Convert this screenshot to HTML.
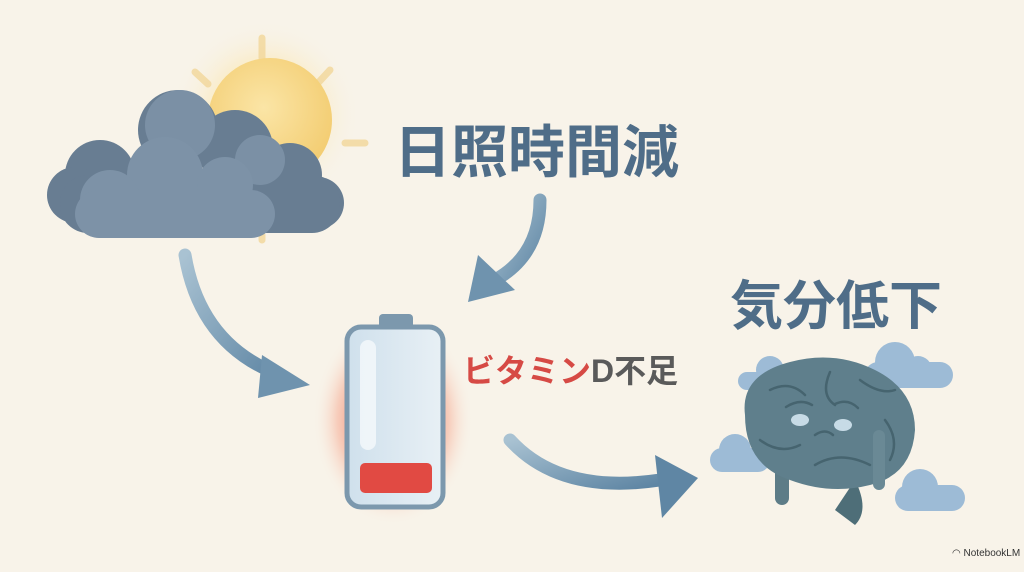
<!DOCTYPE html>
<html><head><meta charset="utf-8"><style>
html,body{margin:0;padding:0;background:#f8f3e9;}
svg{display:block}
text{font-family:"Liberation Sans","Noto Sans CJK JP",sans-serif;font-weight:700}
</style></head><body>
<svg width="1024" height="572" viewBox="0 0 1024 572">
<defs>
<radialGradient id="sun" cx="0.45" cy="0.4" r="0.6"><stop offset="0" stop-color="#fbe5a6"/><stop offset="1" stop-color="#f3cd72"/></radialGradient>
<radialGradient id="sunglow"><stop offset="0.5" stop-color="#fbe7b0" stop-opacity="0.7"/><stop offset="1" stop-color="#f8f3e9" stop-opacity="0"/></radialGradient>
<radialGradient id="glow"><stop offset="0.35" stop-color="#f06a52" stop-opacity="0.9"/><stop offset="0.7" stop-color="#f6a88f" stop-opacity="0.5"/><stop offset="1" stop-color="#f8f3e9" stop-opacity="0"/></radialGradient>
<linearGradient id="arr" x1="0" y1="0" x2="1" y2="1"><stop offset="0" stop-color="#a9c2d2"/><stop offset="1" stop-color="#5f86a4"/></linearGradient>
<linearGradient id="batt" x1="0" y1="0" x2="1" y2="0"><stop offset="0" stop-color="#cfe0ec"/><stop offset="1" stop-color="#e8f0f5"/></linearGradient>
</defs>
<circle cx="265" cy="115" r="95" fill="url(#sunglow)"/>
<g stroke="#f2d79a" stroke-width="7" stroke-linecap="round" opacity="0.8">
<line x1="262" y1="38" x2="262" y2="58"/><line x1="195" y1="72" x2="208" y2="84"/><line x1="330" y1="70" x2="318" y2="83"/>
<line x1="345" y1="143" x2="365" y2="143"/><line x1="262" y1="235" x2="262" y2="240"/>
</g>
<circle cx="270" cy="120" r="62" fill="url(#sun)"/>
<g fill="#687d92">
<circle cx="178" cy="130" r="40"/><circle cx="100" cy="175" r="35"/><circle cx="290" cy="175" r="32"/>
<circle cx="235" cy="148" r="38"/><circle cx="75" cy="195" r="28"/><circle cx="318" cy="203" r="26"/>
<rect x="60" y="175" width="280" height="58" rx="28"/>
</g>
<g fill="#7b90a5"><circle cx="180" cy="125" r="35"/><circle cx="260" cy="160" r="25"/></g>
<g fill="#7d92a7">
<circle cx="165" cy="175" r="38"/><circle cx="225" cy="185" r="28"/><circle cx="110" cy="200" r="30"/>
<rect x="75" y="190" width="200" height="48" rx="24"/>
</g>
<path d="M185 255 Q200 345 280 375" fill="none" stroke="url(#arr)" stroke-width="13" stroke-linecap="round"/>
<path d="M262 355 L310 385 L258 398 Z" fill="#6f93ae"/>
<path d="M540 200 Q540 255 495 280" fill="none" stroke="url(#arr)" stroke-width="13" stroke-linecap="round"/>
<path d="M478 255 L468 302 L515 290 Z" fill="#6f93ae"/>
<path d="M510 440 Q560 495 660 480" fill="none" stroke="url(#arr)" stroke-width="13" stroke-linecap="round"/>
<path d="M655 455 L698 478 L662 518 Z" fill="#5f86a4"/>
<ellipse cx="393" cy="420" rx="80" ry="105" fill="url(#glow)"/>
<rect x="379" y="314" width="34" height="16" rx="4" fill="#7c98ad"/>
<rect x="347" y="327" width="96" height="180" rx="14" fill="url(#batt)" stroke="#7c98ad" stroke-width="5"/>
<rect x="360" y="340" width="16" height="110" rx="8" fill="#f5f9fb" opacity="0.8"/>
<rect x="360" y="463" width="72" height="30" rx="5" fill="#e14a43"/>
<text x="463" y="382" font-size="32" fill="#d64a45">ビタミン<tspan fill="#5a5a5a">D不足</tspan></text>
<text x="394" y="172" font-size="57" fill="#4f6d88">日照時間減</text>
<text x="730" y="324" font-size="53" fill="#4f6d88">気分低下</text>
<g fill="#9dbbd6">
<circle cx="895" cy="362" r="20"/><circle cx="918" cy="370" r="14"/><rect x="865" y="362" width="88" height="26" rx="13"/>
<circle cx="770" cy="370" r="14"/><rect x="738" y="372" width="50" height="18" rx="9"/>
<circle cx="735" cy="450" r="16"/><rect x="710" y="448" width="60" height="24" rx="12"/>
<circle cx="920" cy="487" r="18"/><rect x="895" y="485" width="70" height="26" rx="13"/>
</g>
<path d="M855 480 Q870 510 855 525 L835 510 Z" fill="#4e6e78"/>
<rect x="775" y="460" width="14" height="45" rx="7" fill="#5d7c87"/>
<path d="M745 415 Q740 375 790 362 Q835 350 875 370 Q915 390 915 430 Q912 475 870 485 Q830 495 790 480 Q745 465 745 415 Z" fill="#5f7f8c"/>
<g fill="none" stroke="#46646f" stroke-width="2.5" stroke-linecap="round">
<path d="M770 390 Q790 380 805 395"/><path d="M830 372 Q820 395 835 405"/><path d="M860 380 Q880 395 895 390"/>
<path d="M760 440 Q780 455 800 445"/><path d="M815 465 Q840 450 870 465"/><path d="M885 420 Q900 440 890 460"/>
<path d="M786 407 Q800 398 812 405"/><path d="M835 404 Q848 398 858 408"/><path d="M815 435 Q825 428 833 435"/>
</g>
<ellipse cx="800" cy="420" rx="9" ry="6" fill="#c7dbe6"/><ellipse cx="843" cy="425" rx="9" ry="6" fill="#c7dbe6"/>
<rect x="873" y="430" width="12" height="60" rx="6" fill="#6a8995"/>
<text x="952" y="556" font-size="10" fill="#333" style="font-weight:400">◠ NotebookLM</text>
</svg>
</body></html>
